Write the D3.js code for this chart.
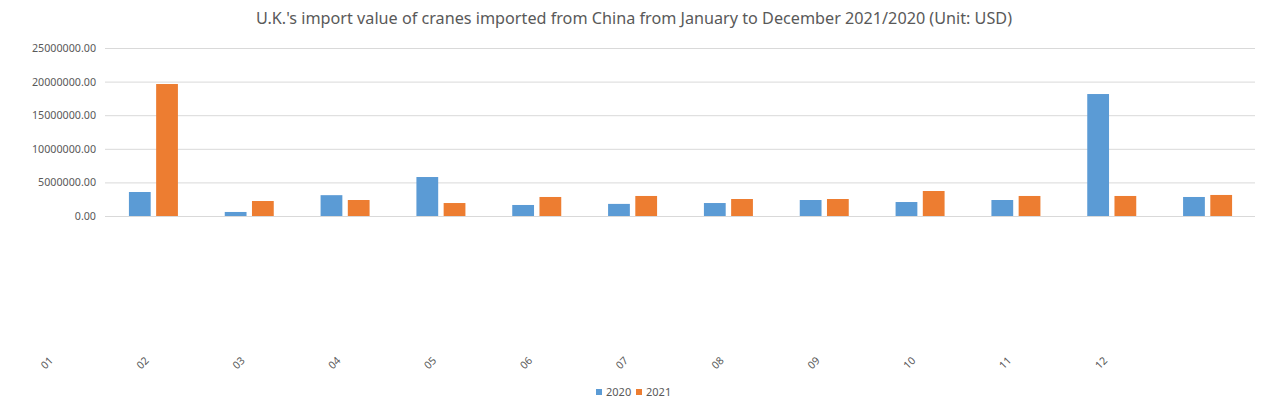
<!DOCTYPE html>
<html>
<head>
<meta charset="utf-8">
<script src="https://cdn.jsdelivr.net/npm/d3@7"></script>
<style>
  body { margin: 0; background: #fff; }
  svg text { font-family: "Noto Sans", "Open Sans", sans-serif; fill: #595959; }
</style>
</head>
<body>
<div id="chart"></div>
<script>
const months = ['01', '02', '03', '04', '05', '06', '07', '08', '09', '10', '11', '12'];
const seriesNames = ['2020', '2021'];
const values2020 = [3570000, 600000, 3100000, 5800000, 1640000, 1800000, 1930000, 2380000, 2080000, 2380000, 18150000, 2830000];
const values2021 = [19640000, 2230000, 2380000, 1930000, 2830000, 2980000, 2530000, 2530000, 3720000, 2980000, 2980000, 3130000];
const yTicks = [0, 5000000, 10000000, 15000000, 20000000, 25000000];
const colors = ['#5B9BD5', '#ED7D31'];
const title = "U.K.'s import value of cranes imported from China from January to December 2021/2020 (Unit: USD)";

const width = 1267;
const height = 408;
const axesSpace = { left: 105, right: 12, top: 48, bottom: 192 };

const data = months.map((m, i) => ({ month: m, values: [values2020[i], values2021[i]] }));

const svg = d3.select('#chart')
  .append('svg')
  .attr('width', width)
  .attr('height', height);

const x = d3.scaleBand()
  .domain(months)
  .range([axesSpace.left, width - axesSpace.right]);

// bars sit in the middle ~half of each band
const xInner = d3.scaleBand()
  .domain(seriesNames)
  .range([0, 49])
  .paddingInner(0.2);

const y = d3.scaleLinear()
  .domain([0, 25000000])
  .range([height - axesSpace.bottom, axesSpace.top]);

svg.append('text')
  .attr('x', 634)
  .attr('y', 24)
  .attr('text-anchor', 'middle')
  .style('font-size', '16.2px')
  .text(title);

// gridlines + y labels
const yAxis = d3.axisLeft(y)
  .tickValues(yTicks)
  .tickSize(-(width - axesSpace.right - axesSpace.left))
  .tickPadding(9)
  .tickFormat(d => d.toFixed(2));

svg.append('g')
  .attr('class', 'yaxis')
  .attr('transform', `translate(${axesSpace.left},0)`)
  .call(yAxis)
  .call(g => g.select('.domain').remove())
  .call(g => g.selectAll('line').attr('stroke', '#D9D9D9'))
  .call(g => g.selectAll('text')
    .attr('fill', '#595959')
    .style('font-size', '10.7px'));

const groups = svg.append('g')
  .selectAll('g')
  .data(data)
  .enter()
  .append('g')
  .attr('transform', d => `translate(${x(d.month) + x.bandwidth() / 2 - 24},0)`);

groups.selectAll('rect')
  .data(d => d.values.map((v, i) => ({ key: seriesNames[i], value: v, i })))
  .enter()
  .append('rect')
  .attr('x', d => xInner(d.key))
  .attr('y', d => y(d.value))
  .attr('width', xInner.bandwidth())
  .attr('height', d => y(0) - y(d.value))
  .attr('fill', d => colors[d.i]);

// category labels are drawn shifted one slot left of their bars, like the source
svg.append('g')
  .selectAll('text')
  .data(months)
  .enter()
  .append('text')
  .attr('transform', d => `translate(${x(d) + x.bandwidth() / 2 - 106},363) rotate(-45)`)
  .attr('text-anchor', 'middle')
  .attr('dy', '0.35em')
  .style('font-size', '10.5px')
  .text(d => d);

// legend
const legend = svg.append('g')
  .attr('transform', 'translate(596,392)');

const items = legend.selectAll('g')
  .data(seriesNames)
  .enter()
  .append('g')
  .attr('transform', (d, i) => `translate(${i * 40},0)`);

items.append('rect')
  .attr('x', 0)
  .attr('y', -3)
  .attr('width', 6)
  .attr('height', 6)
  .attr('fill', (d, i) => colors[i]);

items.append('text')
  .attr('x', 10)
  .attr('dy', '0.35em')
  .style('font-size', '11px')
  .text(d => d);
</script>
</body>
</html>
